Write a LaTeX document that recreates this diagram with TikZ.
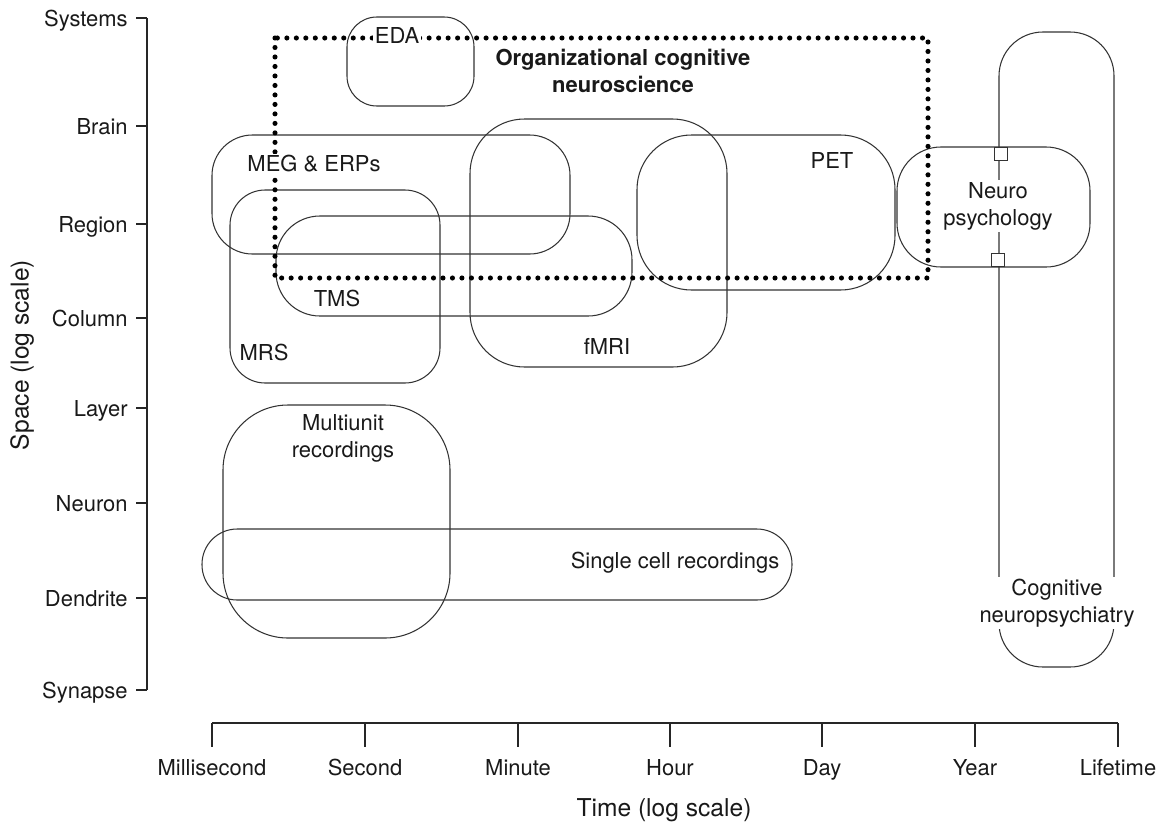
\documentclass[tikz,border=0pt]{standalone}
\usepackage{fontspec}
\setmainfont{TeX Gyre Heros}
\usetikzlibrary{positioning}

\tikzset{
  axisline/.style={line width=0.7pt, color=black!85},
  box/.style={line width=0.6pt, color=black!80},
  lbl/.style={font=\fontsize{12.5}{15.3}\selectfont, inner sep=1pt, align=center, text=black!90},
  ticklbl/.style={font=\fontsize{12.5}{15}\selectfont, inner sep=0pt, text=black!90},
  dotted box/.style={line width=2.9pt, line cap=round, dash pattern=on 0pt off 5.4pt},
}

\begin{document}
\begin{tikzpicture}[x=0.02cm, y=-0.02cm]

\useasboundingbox (0,0) rectangle (1165,825);

% space axis
\draw[axisline] (147,18) -- (147,690);
\foreach \y/\name in {18/Systems,126/Brain,224/Region,318/Column,408/Layer,503/Neuron,598/Dendrite,690/Synapse} {
    \draw[axisline] (136,\y) -- (147,\y);
    \node[ticklbl, anchor=base east] (s\name) at (128,\y+8) {\name};
};
\node[ticklbl, font=\fontsize{14}{16}\selectfont, rotate=90] (spacetitle) at (22,355) {Space (log scale)};

% time axis
\draw[axisline] (212,723) -- (1118,723);
\foreach \x/\name in {212/Millisecond,365/Second,518/Minute,670/Hour,822/Day,975/Year,1118/Lifetime} {
    \draw[axisline] (\x,723) -- (\x,747);
    \node[ticklbl, anchor=base] (t\name) at (\x,775) {\name};
};
\node[ticklbl, font=\fontsize{14}{16}\selectfont, anchor=base] (timetitle) at (664,816) {Time (log scale)};

% methods
\draw[box, rounded corners=17pt] (347,17) rectangle (474,106);   % EDA
\draw[box, rounded corners=23pt] (212,135) rectangle (570,254);  % MEG
\draw[box, rounded corners=20pt] (230,190) rectangle (440,383);  % MRS
\draw[box, rounded corners=25pt] (276,216) rectangle (632,316);  % TMS
\draw[box, rounded corners=31pt] (470,119) rectangle (727,367);  % fMRI
\draw[box, rounded corners=31pt] (637,135) rectangle (895,290);  % PET
\draw[box, rounded corners=25pt] (897,147) rectangle (1090,267); % neuropsychology
\draw[box, rounded corners=25pt] (999,32) rectangle (1114,667);  % neuropsychiatry
\draw[box, rounded corners=37pt] (223,405) rectangle (450,638);  % multiunit
\draw[box, rounded corners=20pt] (202,529) rectangle (792,600);  % single cell

\draw[dotted box] (275,38) rectangle (928,278);

\node[lbl, fill=white] (eda) at (397,35) {EDA};
\node[lbl, font=\fontsize{12.5}{15.3}\selectfont\bfseries] (ocn) at (623,71) {Organizational cognitive\\neuroscience};
\node[lbl, fill=white] (meg) at (314,164) {MEG \& ERPs};
\node[lbl] (mrs) at (264,352) {MRS};
\node[lbl] (tms) at (337,298) {TMS};
\node[lbl] (fmri) at (607,346) {fMRI};
\node[lbl] (pet) at (832,160) {PET};
\node[lbl, fill=white] (neuro) at (998,206) {Neuro\\psychology};
\node[lbl, fill=white] (cogn) at (1057,603) {Cognitive\\neuropsychiatry};
\node[lbl] (multi) at (343,438) {Multiunit\\recordings};
\node[lbl] (single) at (675,563) {Single cell recordings};

\node[draw, box, fill=white, minimum size=7.4pt, inner sep=0pt] (sqtop) at (1001,154) {};
\node[draw, box, fill=white, minimum size=7.4pt, inner sep=0pt] (sqbot) at (998,260) {};

\end{tikzpicture}
\end{document}
